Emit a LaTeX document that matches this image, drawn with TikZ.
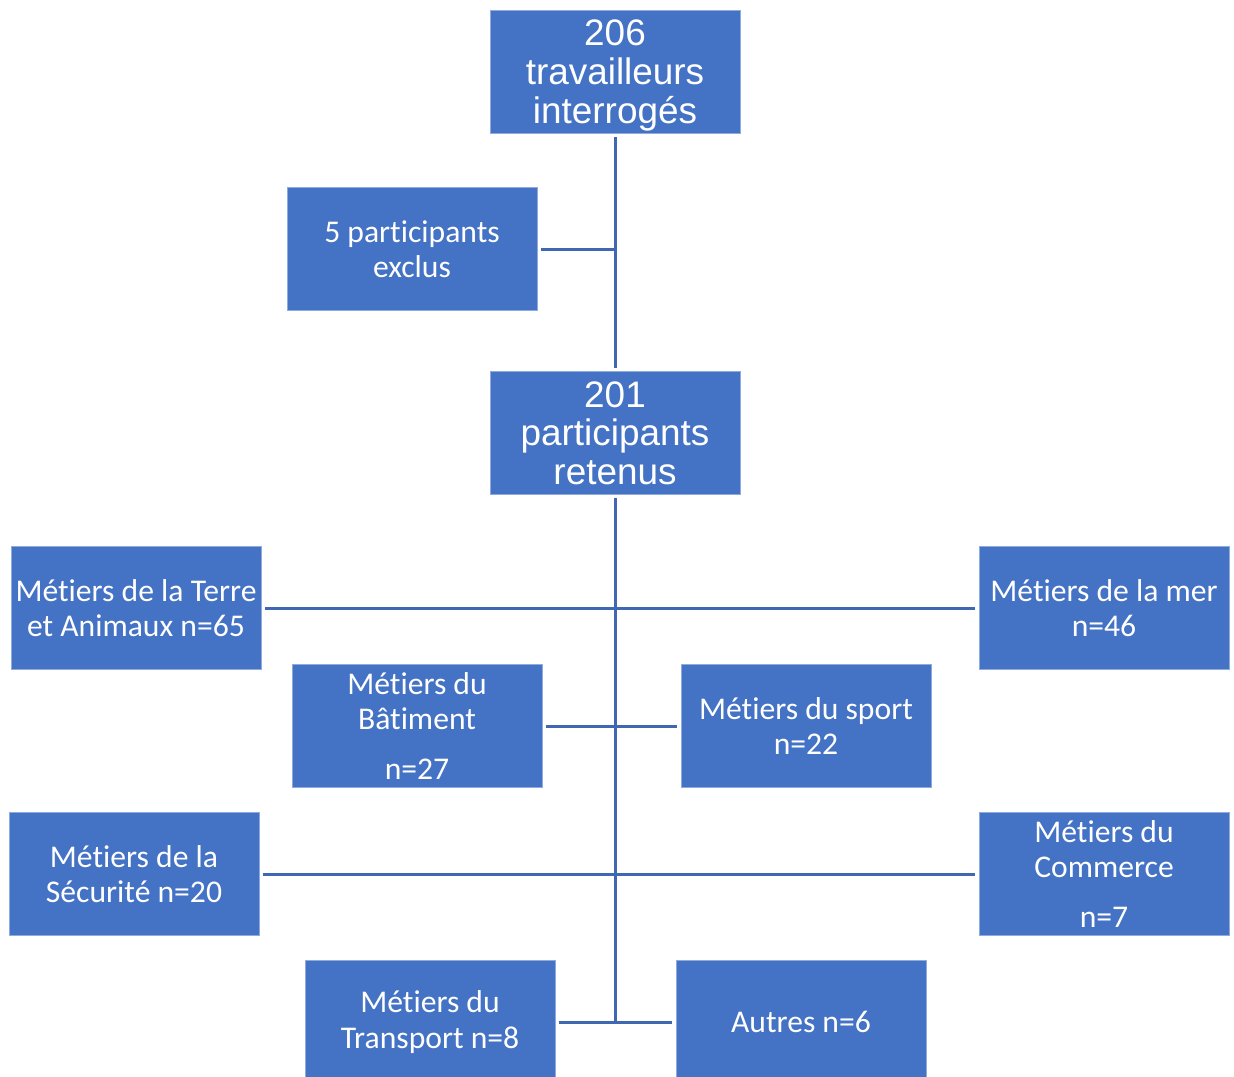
\documentclass[tikz,border=0pt]{standalone}
\usepackage{fontspec}
\setmainfont[Ligatures=NoCommon]{Carlito}
\newfontfamily\arialf{Liberation Sans}
\usepackage{tikz}
\usetikzlibrary{positioning}

\definecolor{boxblue}{RGB}{68,114,196}
\definecolor{boxedge}{RGB}{143,170,220}
\definecolor{lineblue}{RGB}{64,103,177}

\begin{document}
\begin{tikzpicture}[x=0.02cm,y=-0.02cm,
  box/.style={rectangle,fill=boxblue,draw=boxedge,line width=0.5pt,text=white,
    minimum width=5cm,minimum height=2.46cm,inner sep=0pt,align=center,
    font=\fontsize{18}{20}\selectfont},
  bigbox/.style={box,font=\arialf\fontsize{21}{22}\selectfont},
  link/.style={lineblue,line width=1.7pt,shorten >=2pt,shorten <=2pt}]

\useasboundingbox (0,0) rectangle (1234,1076);
\clip (0,0) rectangle (1234,1076);

% top part
\node [bigbox] (tot) at (615,72) {\rule{0pt}{18.5pt}206\\travailleurs\\interrogés};
\node [box] (excl) at (412,249) {5 participants\\exclus};
\node [bigbox] (ret) at (615,433) {201\\participants\\retenus};
\draw [link] (tot) -- (ret);
\coordinate (jex) at (tot.south |- excl.east);
\draw [link,shorten >=0pt] (excl.east) -- (jex);

% groups
\node [box] (terre) at (136,608) {Métiers de la Terre\\et Animaux n=65};
\node [box] (mer) at (1104,608) {Métiers de la mer\\n=46};
\node [box] (bat) at (417,726) {Métiers du\\Bâtiment\\[8pt]n=27};
\node [box] (sport) at (806,726) {Métiers du sport\\n=22};
\node [box] (secu) at (134,874) {Métiers de la\\Sécurité n=20};
\node [box] (comm) at (1104,874) {Métiers du\\Commerce\\[8pt]n=7};
\node [box] (trans) at (430,1022) {Métiers du\\Transport n=8};
\node [box] (autres) at (801,1022) {Autres n=6};

\coordinate (jbot) at (ret.south |- trans.east);
\draw [link,shorten >=-0.85pt] (ret.south) -- (jbot);
\draw [link] (terre) -- (mer);
\draw [link] (bat) -- (sport);
\draw [link] (secu) -- (comm);
\draw [link] (trans) -- (autres);
\end{tikzpicture}
\end{document}
